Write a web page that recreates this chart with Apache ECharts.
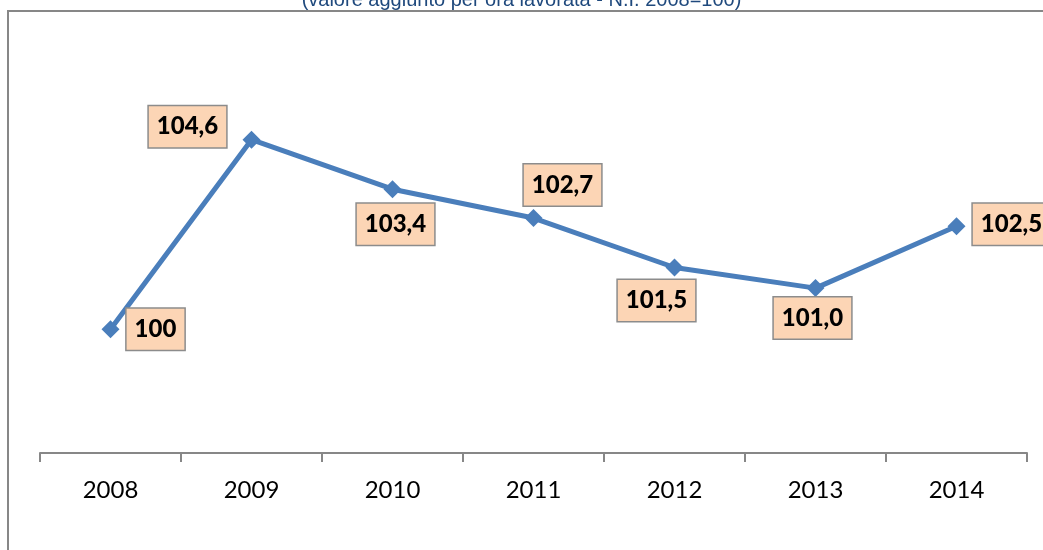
<!DOCTYPE html>
<html>
<head>
<meta charset="utf-8">
<script src="https://cdn.jsdelivr.net/npm/echarts@6/dist/echarts.min.js"></script>
<style>
	html, body { margin: 0; padding: 0; background: #fff; }
	#chart { width: 1043px; height: 550px; }
</style>
</head>
<body>
<div id="chart"></div>
<script>
var years = ["2008", "2009", "2010", "2011", "2012", "2013", "2014"];
var values = [100, 104.6, 103.4, 102.7, 101.5, 101.0, 102.5];
var valueLabels = ["100", "104,6", "103,4", "102,7", "101,5", "101,0", "102,5"];
// label box centre, relative to the marker
var labelOffsets = [[45, 0], [-64, -13], [3, 35], [29, -33], [-18, 33], [-3, 30], [55, -2]];

var chart = echarts.init(document.getElementById("chart"));

var chartData = [];
for (var i = 0; i < values.length; i++) {
	chartData.push({
		value: values[i],
		label: {
			formatter: valueLabels[i],
			offset: labelOffsets[i]
		}
	});
}

chart.setOption({
	animation: false,
	title: {
		text: "(valore aggiunto per ora lavorata - N.I. 2008=100)",
		left: "center",
		top: -15,
		textStyle: {
			color: "#1F497D",
			fontFamily: "Liberation Sans",
			fontSize: 20,
			fontWeight: "normal"
		}
	},
	graphic: [{
		type: "rect",
		shape: { x: 8, y: 11, width: 1100, height: 700 },
		style: { fill: "none", stroke: "#878787", lineWidth: 2 },
		silent: true
	}],
	grid: {
		left: 40,
		right: 16,
		top: 82,
		bottom: 97
	},
	xAxis: {
		type: "category",
		data: years,
		boundaryGap: true,
		axisLine: { lineStyle: { color: "#878787", width: 2 } },
		axisTick: { show: true, alignWithLabel: false, length: 9, lineStyle: { color: "#878787", width: 2 } },
		axisLabel: {
			color: "#000",
			fontFamily: "Lato",
			fontSize: 24,
			margin: 25
		}
	},
	yAxis: {
		type: "value",
		min: 97,
		max: 106,
		show: false,
		splitLine: { show: false }
	},
	series: [{
		type: "line",
		data: chartData,
		symbol: "diamond",
		symbolSize: 18,
		lineStyle: { color: "#4A7EBB", width: 5 },
		itemStyle: { color: "#4A7EBB" },
		label: {
			show: true,
			position: "inside",
			color: "#000",
			fontFamily: "Lato",
			fontWeight: 900,
			fontSize: 24,
			lineHeight: 24,
			backgroundColor: "#FCD5B5",
			borderColor: "#8C8C8C",
			borderWidth: 1.5,
			padding: [9, 8, 8, 8]
		}
	}]
});
</script>
</body>
</html>
